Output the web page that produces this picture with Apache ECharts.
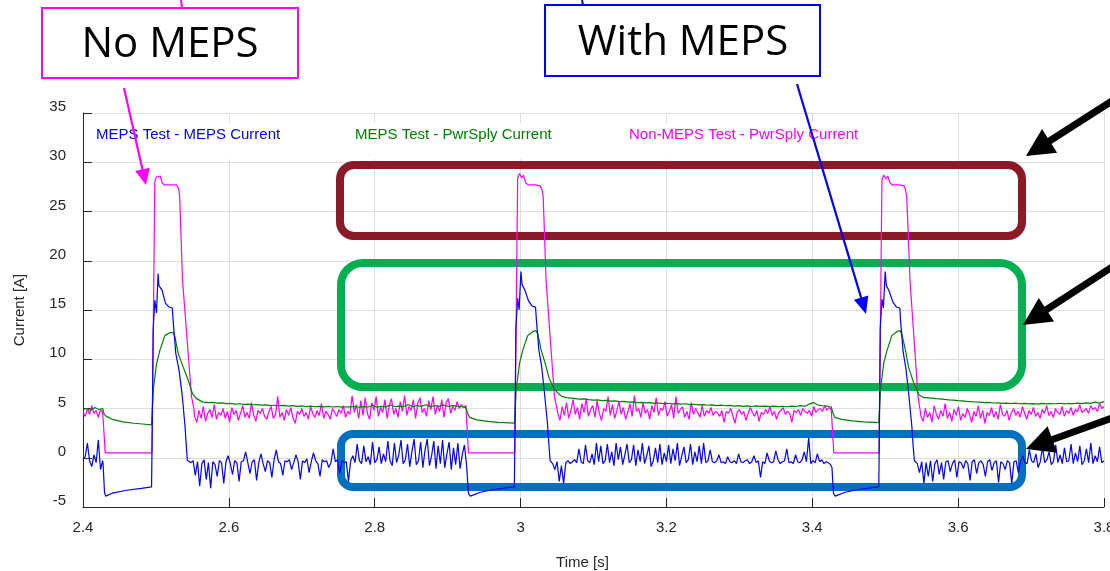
<!DOCTYPE html>
<html>
<head>
<meta charset="utf-8">
<script src="https://cdn.jsdelivr.net/npm/echarts@6/dist/echarts.min.js"></script>
<style>
html,body{margin:0;padding:0;background:#fff;}
#chart{width:1110px;height:571px;}
</style>
</head>
<body>
<div id="chart"></div>
<script>
// ---------------- DATA ----------------
const xTicks = [2.4, 2.6, 2.8, 3.0, 3.2, 3.4, 3.6, 3.8];
const yTicks = [-5, 0, 5, 10, 15, 20, 25, 30, 35];
const seriesNames = ['MEPS Test - MEPS Current', 'MEPS Test - PwrSply Current', 'Non-MEPS Test - PwrSply Current'];

// Blue: MEPS Test - MEPS Current
const blueRun0 = [-0.2,0.1,1.5,-0.3,-0.9,0.3,-0.5,1.8,-1.2,-0.3];                 // 2.400 - 2.427
const blueEdge0 = [[2.4275,-0.6],[2.4295,-3.5],[2.431,-3.9],[2.44,-3.6],[2.46,-3.3],[2.48,-3.1],[2.494,-2.95],[2.4952,4.5],[2.4962,12.9],[2.4985,16.0],[2.5008,14.7],[2.503,18.7],[2.504,17.5],[2.5085,17.0],[2.513,15.7],[2.518,15.3],[2.5225,15.2],[2.5235,14.0],[2.5272,10.6],[2.5317,8.9],[2.5362,6.2],[2.54,3.1],[2.5417,1.1],[2.5431,-0.25],[2.5455,-0.45]];
const blueRun1 = [-0.5,-0.3,-1.8,-0.4,-2.9,-0.6,-0.2,-2.2,-0.5,-3.1,-0.4,-0.7,-1.9,-0.3,-0.5,-2.6,-0.4,0.2,-0.6,-1.7,-0.3,-0.5,-2.4,-0.4,
 -0.3,0.6,-0.5,-1.6,-0.4,-0.2,-2.3,-0.5,0.4,-0.6,-1.4,-0.3,-0.5,-2.0,-0.2,0.8,-0.4,-0.6,-1.8,-0.3,-0.4,-0.2,-1.2,-0.5,0.3,-0.4,-2.2,-0.3,-0.5,-0.1,-1.5,-0.4,0.5,-0.3,-0.6,-1.9,-0.2,-0.4,-0.3,-1.0,-0.5,0.9,-0.4,-0.2,-1.6,-0.3,-0.5,-0.4,-2.4,-0.3,
 0.2,-0.5,1.4,-0.3,-0.6,1.2,-0.4,0.1,-0.7,1.6,-0.5,-0.2,1.1,-0.6,0.4,-0.4,1.7,-0.3,-0.8,1.5,-0.5,0.3,1.8,-0.6,-0.2,1.4,-0.9,0.6,1.9,-0.7,-0.3,1.6,-1.0,0.8,1.9,-0.8,0.2,1.7,-1.1,1.2,-0.6,1.8,-1.0,0.4,1.6,-1.2,1.0,-0.7,1.5,-1.1,0.3,1.3,-0.8]; // 2.548 - 2.926
const blueEdge1 = [[2.9265,-1.0],[2.9285,-3.6],[2.931,-3.9],[2.945,-3.5],[2.965,-3.2],[2.985,-3.0],[2.9915,-2.95],[2.9925,4.0],[2.9935,13.0],[2.996,16.2],[2.998,15.0],[3.0005,18.9],[3.002,17.6],[3.006,17.0],[3.011,15.9],[3.016,15.4],[3.0205,15.3],[3.0215,14.2],[3.025,11.0],[3.029,9.2],[3.033,6.4],[3.037,3.4],[3.039,1.2],[3.0405,-0.3],[3.043,-0.5]];
const blueRun2 = [-0.6,-1.2,-0.4,-2.4,-0.8,-2.6,-0.5,-0.3,-0.6,-0.4,-0.2,-0.5,
 0.9,-0.4,-0.6,1.3,-0.3,-0.5,0.4,-0.7,1.5,-0.4,1.2,-0.6,-0.3,1.4,-0.5,0.6,-0.8,1.5,-0.2,1.1,-0.7,0.3,1.4,-0.5,-0.2,1.3,-0.8,0.8,-0.4,1.5,-0.6,0.2,1.2,-0.9,-0.3,1.0,-0.5,1.4,-0.7,0.5,-0.4,1.3,-0.6,0.9,-0.3,1.5,-0.8,0.2,1.1,-0.5,-0.2,1.4,-0.7,0.6,-0.4,1.2,-0.6,1.5,-0.5,-0.3,0.8,-0.4,-0.5,
 -0.3,0.3,-0.5,-0.4,-0.6,0.1,-0.4,-0.5,-0.3,-0.6,0.4,-0.4,-0.5,-0.3,-0.2,-0.6,-0.4,0.2,-0.5,-0.3,-2.0,-0.4,-0.6,0.5,-0.3,-0.5,-0.4,0.7,-0.2,-0.6,-0.4,-0.3,0.9,-0.5,-0.4,-0.6,0.3,-0.4,-0.5,-0.2,0.6,-0.4,2.0,-0.6,-0.3,-0.5,0.4,-0.4,-0.2,-0.6,-0.4,-0.5,-0.7]; // 3.044 - 3.425
const blueEdge2 = [[3.427,-1.0],[3.429,-3.6],[3.4315,-3.9],[3.445,-3.5],[3.465,-3.2],[3.485,-3.0],[3.4912,-2.95],[3.4922,4.2],[3.4932,13.2],[3.4955,16.1],[3.4975,15.2],[3.5,18.9],[3.5015,17.5],[3.5055,16.9],[3.5105,15.8],[3.5155,15.3],[3.52,15.2],[3.521,14.0],[3.5245,10.8],[3.5285,9.0],[3.5325,6.3],[3.5365,3.2],[3.5385,1.0],[3.54,-0.3],[3.5425,-0.5]];
const blueRun3 = [-0.6,-1.5,-0.4,-2.6,-0.5,-1.9,-0.3,-2.4,-0.6,-0.2,-1.7,-0.5,-2.2,-0.4,-0.3,-1.4,-0.6,-0.2,-2.0,-0.4,-0.5,-1.1,-0.3,-0.6,-2.3,-0.4,-0.2,-1.6,-0.5,-0.3,-0.7,-1.9,-0.4,-0.2,-1.3,-0.5,-0.3,-2.5,-0.4,-0.6,-1.2,-0.3,-0.5,-2.6,-0.4,-0.3,-1.5,
 -0.4,0.2,-0.5,-0.6,0.8,-0.3,-0.5,0.4,-1.0,-0.4,1.1,-0.5,-0.2,0.6,-0.7,-0.4,1.3,-0.5,0.3,-0.6,1.0,-0.4,-0.3,1.4,-0.6,0.5,-0.4,1.2,-0.7,-0.3,0.9,-0.5,1.5,-0.6,0.2,-0.4,1.1,-0.5,-0.3]; // 3.544 - 3.800

// Green: MEPS Test - PwrSply Current
const greenRun0 = [4.9,5.0,4.8,5.1,4.9,5.0];                                          // 2.400 - 2.427
const greenEdge0 = [[2.4275,4.9],[2.429,4.4],[2.432,4.2],[2.44,3.9],[2.455,3.65],[2.47,3.5],[2.485,3.4],[2.494,3.33],[2.4963,6.85],[2.5009,9.55],[2.5054,10.9],[2.5122,12.4],[2.519,12.7],[2.5236,12.7],[2.526,12.3],[2.5305,10.6],[2.5374,9.2],[2.5442,7.9],[2.5501,6.5],[2.5556,6.0],[2.5647,5.65]];
const greenRun1 = [5.65,5.6,5.62,5.55,5.58,5.5,5.52,5.45,5.48,5.42,5.44,5.38,5.4,5.35,5.37,5.3,5.33,5.28,5.31,5.25,5.29,5.22,5.26,5.2,5.24,5.18,5.22,5.17,5.21,5.15,5.2,5.14,5.18,5.16,5.2,5.13,5.19,5.15,5.3,5.14,5.22,5.16,5.35,5.18,5.25,5.2,5.4,5.17,5.3,5.22,5.38,5.19,5.28,5.24,5.36,5.2,5.3,5.25,5.18,5.12]; // 2.566 - 2.925
const greenEdge1 = [[2.9255,5.1],[2.927,4.6],[2.93,4.1],[2.94,3.85],[2.955,3.7],[2.97,3.6],[2.985,3.55],[2.9918,3.52],[2.994,6.9],[2.9986,9.6],[3.003,10.9],[3.0098,12.4],[3.0166,12.8],[3.0212,12.9],[3.0236,12.6],[3.028,11.0],[3.034,9.5],[3.039,8.1],[3.046,7.0],[3.052,6.5],[3.0575,6.2]];
const greenRun2 = [6.1,6.05,6.0,5.95,5.98,5.9,5.85,5.88,5.8,5.82,5.75,5.78,5.7,5.72,5.65,5.68,5.6,5.63,5.58,5.6,5.52,5.56,5.5,5.53,5.47,5.5,5.44,5.48,5.4,5.43,5.36,5.4,5.33,5.37,5.3,5.34,5.28,5.32,5.25,5.3,5.22,5.27,5.2,5.26,5.21,5.25,5.19,5.24,5.2,5.23,5.18,5.25,5.2,5.3,5.22,5.45,5.6,5.35,5.28,5.25,5.15]; // 3.063 - 3.426
const greenEdge2 = [[3.4265,5.1],[3.428,4.6],[3.431,4.1],[3.44,3.9],[3.455,3.75],[3.47,3.65],[3.485,3.6],[3.4912,3.58],[3.4935,6.9],[3.498,9.6],[3.5025,10.9],[3.509,12.4],[3.516,12.8],[3.5205,12.9],[3.523,12.5],[3.5275,11.0],[3.532,9.2],[3.539,7.6],[3.546,6.4],[3.553,6.1]];
const greenRun3 = [6.1,6.05,6.0,5.98,5.92,5.88,5.85,5.8,5.78,5.72,5.7,5.66,5.64,5.6,5.62,5.56,5.58,5.52,5.55,5.5,5.54,5.48,5.52,5.47,5.5,5.45,5.52,5.46,5.5,5.48,5.53,5.47,5.51,5.49,5.55,5.5,5.58,5.52,5.65,5.55,5.7]; // 3.557 - 3.800

// Magenta: Non-MEPS Test - PwrSply Current
const magRun0 = [4.6,4.2,5.0,4.4,5.3,4.5,4.8,4.1,4.9,4.6];                         // 2.400 - 2.427
const magEdge0 = [[2.4275,4.5],[2.4305,0.5],[2.4945,0.5],[2.4965,14.0],[2.4985,28.0],[2.5005,28.5],[2.503,28.3],[2.506,28.6],[2.5085,27.9],[2.512,27.7],[2.52,27.7],[2.528,27.7],[2.531,27.4],[2.5325,26.6],[2.5365,18.0],[2.5488,6.2],[2.552,5.0]];
const magRun1 = [4.2,3.6,4.8,4.0,5.2,3.7,4.5,4.9,4.1,5.4,3.9,4.6,4.3,5.0,4.0,4.7,3.6,5.1,4.4,4.8,3.8,4.5,5.3,4.1,4.6,4.0,5.6,4.3,3.7,4.8,4.5,5.0,4.2,3.9,4.7,5.2,4.0,4.4,6.2,4.1,4.6,3.8,4.9,4.3,5.1,4.0,3.5,4.7,4.4,5.0,4.2,4.6,3.9,5.2,4.5,4.1,4.8,4.3,5.5,4.0,4.7,4.4,3.9,5.0,4.6,4.2,4.9,4.5,5.3,4.1,4.7,4.4,6.3,
 4.6,5.4,4.0,5.8,4.3,6.1,4.5,3.9,5.6,4.8,6.2,4.2,5.1,4.6,5.9,4.0,5.3,6.0,4.4,5.0,4.1,5.7,4.7,6.3,4.3,5.2,4.8,5.9,4.0,5.5,6.1,4.6,5.0,4.2,5.8,4.9,6.2,4.4,5.3,4.7,5.9,4.1,5.6,6.0,4.5,5.2,4.8,5.7,5.0,5.4,5.1,5.3]; // 2.553 - 2.925
const magEdge1 = [[2.926,5.2],[2.9285,0.5],[2.992,0.5],[2.994,14.0],[2.996,28.4],[2.9985,28.85],[3.0015,28.4],[3.004,28.7],[3.007,27.9],[3.011,27.7],[3.02,27.7],[3.027,27.6],[3.0295,27.2],[3.031,26.5],[3.035,18.0],[3.0465,6.2],[3.05,5.0]];
const magRun2 = [4.5,3.8,5.2,4.3,5.6,4.0,4.8,5.9,4.4,5.1,3.9,5.5,4.6,6.0,4.2,4.9,5.3,4.1,5.8,4.5,3.8,5.0,4.7,6.2,4.3,5.4,4.0,4.8,5.7,4.4,5.1,3.9,4.6,5.5,4.2,6.3,4.7,5.0,4.1,5.6,4.5,4.9,3.9,5.3,4.6,6.1,4.3,5.0,4.8,5.7,4.2,4.7,5.4,4.0,6.2,4.5,4.9,5.2,4.1,4.7,3.9,5.6,4.4,5.0,4.6,4.1,5.3,4.2,4.8,4.5,5.1,4.3,4.7,
 4.6,4.2,4.8,3.6,4.7,4.5,5.0,4.3,3.5,4.6,4.9,4.4,4.7,3.8,4.5,5.1,4.6,4.2,4.8,3.7,4.6,4.4,4.9,4.5,5.2,4.3,4.7,3.9,4.6,4.8,5.1,4.4,4.7,4.5,3.6,4.8,4.6,4.9,4.3,5.0,4.7,4.5,4.8,4.2,5.2,4.6,4.9,5.0,4.7,5.3,4.8,5.1,4.9]; // 3.051 - 3.426
const magEdge2 = [[3.427,4.9],[3.4295,0.5],[3.4915,0.5],[3.4935,14.0],[3.4955,28.2],[3.498,28.7],[3.501,28.3],[3.5035,28.6],[3.5065,27.9],[3.51,27.7],[3.52,27.7],[3.5255,27.6],[3.5275,27.3],[3.5295,26.5],[3.534,18.0],[3.545,6.2],[3.548,4.8]];
const magRun3 = [4.2,3.7,5.0,4.1,4.6,3.6,5.3,4.4,3.9,4.8,4.2,5.5,4.0,4.6,3.7,4.9,4.3,5.2,3.8,4.5,4.1,5.0,4.4,3.6,4.7,4.2,5.3,4.0,4.8,3.5,4.6,4.3,5.1,4.1,4.7,3.9,5.4,4.4,4.2,4.8,3.8,4.6,5.0,4.3,4.7,4.1,5.2,4.5,3.9,4.8,4.4,5.1,4.2,4.6,4.0,4.9,4.5,5.3,4.3,4.7,4.1,5.0,4.6,4.4,5.2,4.2,4.8,4.5,5.1,4.3,4.9,4.7,5.4,4.6,4.8,5.0,4.5,5.3,4.9,5.1,4.7,5.5,5.0,5.2]; // 3.549 - 3.800

// ---------------- build series data ----------------
// a "run" is a block of samples taken at even time steps between t0 and t1
function run(t0, t1, vals) {
  const n = vals.length;
  return vals.map((v, i) => [t0 + (t1 - t0) * i / (n - 1), v]);
}
const blueData = [].concat(run(2.400, 2.427, blueRun0), blueEdge0, run(2.548, 2.926, blueRun1), blueEdge1,
  run(3.044, 3.425, blueRun2), blueEdge2, run(3.544, 3.800, blueRun3));
const greenData = [].concat(run(2.400, 2.427, greenRun0), greenEdge0, run(2.566, 2.925, greenRun1), greenEdge1,
  run(3.063, 3.426, greenRun2), greenEdge2, run(3.557, 3.800, greenRun3));
const magData = [].concat(run(2.400, 2.427, magRun0), magEdge0, run(2.553, 2.925, magRun1), magEdge1,
  run(3.051, 3.426, magRun2), magEdge2, run(3.549, 3.800, magRun3));

const BLUE = '#0000ff', GREEN = '#008000', MAG = '#ff00ff';
const AX = '#262626';
const FONT = 'Liberation Sans, Arial, sans-serif';

// ---------------- annotation helpers ----------------
function arrow(x1, y1, x2, y2, color, lw, headLen, headW) {
  const dx = x2 - x1, dy = y2 - y1, L = Math.hypot(dx, dy);
  const ux = dx / L, uy = dy / L, px = -uy, py = ux;
  const bx = x2 - ux * headLen, by = y2 - uy * headLen;
  return [
    { type: 'line', z: 100, shape: { x1: x1, y1: y1, x2: bx + ux * 2, y2: by + uy * 2 }, style: { stroke: color, lineWidth: lw } },
    { type: 'polygon', z: 100, shape: { points: [[x2, y2], [bx + px * headW / 2, by + py * headW / 2], [bx - px * headW / 2, by - py * headW / 2]] }, style: { fill: color } }
  ];
}

const chart = echarts.init(document.getElementById('chart'), null, { renderer: 'canvas' });

const legendCommon = {
  top: 123, itemWidth: 0, itemHeight: 0, itemGap: 0,
  itemStyle: { opacity: 0 }, lineStyle: { opacity: 0 },
  padding: [4, 6, 17, 6], backgroundColor: '#fff', selectedMode: false
};

const option = {
  animation: false,
  backgroundColor: '#fff',
  grid: { left: 83, right: 6, top: 113, bottom: 64, containLabel: false, outerBoundsMode: 'none' },
  legend: [
    Object.assign({}, legendCommon, { left: 84, data: [seriesNames[0]], textStyle: { color: BLUE, fontSize: 15, fontFamily: FONT } }),
    Object.assign({}, legendCommon, { left: 343, data: [seriesNames[1]], textStyle: { color: GREEN, fontSize: 15, fontFamily: FONT } }),
    Object.assign({}, legendCommon, { left: 617, data: [seriesNames[2]], textStyle: { color: MAG, fontSize: 15, fontFamily: FONT } })
  ],
  xAxis: {
    type: 'value', min: xTicks[0], max: xTicks[xTicks.length - 1], interval: 0.2,
    name: 'Time [s]', nameLocation: 'middle', nameGap: 48,
    nameTextStyle: { color: AX, fontSize: 15, fontFamily: FONT, padding: [0, 22, 0, 0] },
    axisLine: { show: true, onZero: false, lineStyle: { color: AX, width: 1 } },
    axisTick: { show: true, inside: true, length: 9, lineStyle: { color: AX } },
    axisLabel: { color: AX, fontSize: 15, fontFamily: FONT, margin: 13,
      formatter: v => String(+v.toFixed(1)) },
    splitLine: { show: true, lineStyle: { color: '#dedede', width: 1 } }
  },
  yAxis: {
    type: 'value', min: yTicks[0], max: yTicks[yTicks.length - 1], interval: 5,
    name: 'Current [A]', nameLocation: 'middle', nameGap: 56, nameRotate: 90,
    nameTextStyle: { color: AX, fontSize: 15, fontFamily: FONT },
    axisLine: { show: true, onZero: false, lineStyle: { color: AX, width: 1 } },
    axisTick: { show: true, inside: true, length: 9, lineStyle: { color: AX } },
    axisLabel: { color: AX, fontSize: 15, fontFamily: FONT, margin: 17, verticalAlign: 'bottom', lineHeight: 12 },
    splitLine: { show: true, lineStyle: { color: '#dedede', width: 1 } }
  },
  series: [
    { name: seriesNames[2], type: 'line', data: magData, showSymbol: false, symbol: 'none', z: 3,
      lineStyle: { color: MAG, width: 1.2 }, itemStyle: { color: MAG } },
    { name: seriesNames[1], type: 'line', data: greenData, showSymbol: false, symbol: 'none', z: 4,
      lineStyle: { color: GREEN, width: 1.2 }, itemStyle: { color: GREEN } },
    { name: seriesNames[0], type: 'line', data: blueData, showSymbol: false, symbol: 'none', z: 5,
      lineStyle: { color: BLUE, width: 1.2 }, itemStyle: { color: BLUE } }
  ],
  graphic: [].concat(
    [
      // highlight frames
      { type: 'rect', z: 1, shape: { x: 340, y: 165, width: 682, height: 71, r: 14 }, style: { fill: 'none', stroke: '#8b1a29', lineWidth: 8 } },
      { type: 'rect', z: 1, shape: { x: 341, y: 263, width: 681, height: 124, r: 22 }, style: { fill: 'none', stroke: '#00b050', lineWidth: 8 } },
      { type: 'rect', z: 1, shape: { x: 341, y: 434, width: 681, height: 53, r: 12 }, style: { fill: 'none', stroke: '#0070c0', lineWidth: 8 } },
      // label boxes
      { type: 'rect', z: 100, shape: { x: 42, y: 8, width: 256, height: 70 }, style: { fill: '#fff', stroke: MAG, lineWidth: 2 } },
      { type: 'text', z: 101, style: { text: 'No MEPS', x: 170, y: 45, align: 'center', verticalAlign: 'middle', fill: '#000', font: '42px "Open Sans", "Noto Sans", sans-serif' } },
      { type: 'rect', z: 100, shape: { x: 545, y: 5, width: 275, height: 71 }, style: { fill: '#fff', stroke: BLUE, lineWidth: 2 } },
      { type: 'text', z: 101, style: { text: 'With MEPS', x: 683, y: 43, align: 'center', verticalAlign: 'middle', fill: '#000', font: '42px "Open Sans", "Noto Sans", sans-serif' } },
      { type: 'line', z: 100, shape: { x1: 181, y1: 0, x2: 182, y2: 8 }, style: { stroke: MAG, lineWidth: 2 } },
      { type: 'line', z: 100, shape: { x1: 582, y1: 0, x2: 583, y2: 5 }, style: { stroke: BLUE, lineWidth: 2 } }
    ],
    arrow(124, 88, 146, 185, MAG, 2.2, 16, 15),
    arrow(797, 84, 866, 314, BLUE, 2.2, 17, 15),
    arrow(1112, 101, 1026, 156, '#000', 7, 28, 28),
    arrow(1112, 267, 1023, 325, '#000', 7, 28, 28),
    arrow(1112, 418, 1026, 449, '#000', 7, 28, 28)
  )
};
chart.setOption(option);
</script>
</body>
</html>
